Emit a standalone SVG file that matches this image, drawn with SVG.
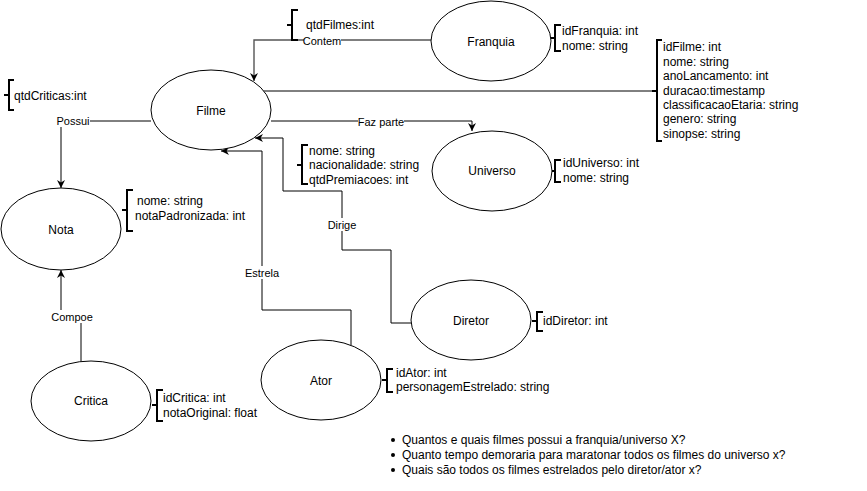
<svg xmlns="http://www.w3.org/2000/svg" width="867" height="491" viewBox="0 0 867 491">
<style>
  .node ellipse { fill: #ffffff; stroke: #000000; stroke-width: 1; }
  .nlabel { font-family: "Liberation Sans", Arial, sans-serif; font-size: 12px; fill: #000000; text-anchor: middle; }
  .attr { font-family: "Liberation Sans", Arial, sans-serif; font-size: 12px; fill: #000000; }
  .elabel { font-family: "Liberation Sans", Arial, sans-serif; font-size: 11px; fill: #000000; text-anchor: middle; }
  .edge { fill: none; stroke: #000000; stroke-width: 1; }
  .gray { stroke: #555555; stroke-width: 1.4; }
  .bracket { fill: none; stroke: #000000; stroke-width: 2; }
  .lblbg { fill: #ffffff; }
</style>
<defs>
  <marker id="arrow" viewBox="0 0 10 10" refX="10" refY="5" markerWidth="8" markerHeight="8" markerUnits="userSpaceOnUse" orient="auto">
    <path d="M0,0 L10,5 L0,10 L3,5 z" fill="#000000"/>
  </marker>
</defs>
<rect x="0" y="0" width="867" height="491" fill="#ffffff"/>

<g id="connectors">
  <path class="edge gray" d="M431,40 H254 V81" marker-end="url(#arrow)"/>
  <path class="edge" d="M653,91 H232" marker-end="url(#arrow)"/>
  <path class="edge" d="M271,121 H472 V131" marker-end="url(#arrow)"/>
  <path class="edge" d="M411,323 H391 V250 H342 V191 H283 V138 H255" marker-end="url(#arrow)"/>
  <path class="edge" d="M351,345 V310 H262 V151 H221" marker-end="url(#arrow)"/>
  <path class="edge" d="M151,121 H61 V188" marker-end="url(#arrow)"/>
  <path class="edge" d="M81,361 V317 H61 V270" marker-end="url(#arrow)"/>

  <rect class="lblbg" x="304" y="34" width="37" height="13"/>
  <text class="elabel" x="322" y="45">Contem</text>
  <rect class="lblbg" x="358" y="115" width="46" height="13"/>
  <text class="elabel" x="381" y="126">Faz parte</text>
  <rect class="lblbg" x="328" y="218" width="29" height="13"/>
  <text class="elabel" x="342" y="229">Dirige</text>
  <rect class="lblbg" x="244" y="266" width="36" height="13"/>
  <text class="elabel" x="262" y="277">Estrela</text>
  <rect class="lblbg" x="56" y="114" width="34" height="13"/>
  <text class="elabel" x="73" y="125">Possui</text>
  <rect class="lblbg" x="52" y="310" width="40" height="13"/>
  <text class="elabel" x="72" y="321">Compoe</text>
</g>

<g id="filme" class="node">
  <ellipse cx="211" cy="110" rx="60" ry="40"/>
  <text class="nlabel" x="211" y="115">Filme</text>
</g>
<g id="franquia" class="node">
  <ellipse cx="491" cy="41" rx="60" ry="40"/>
  <text class="nlabel" x="491" y="46">Franquia</text>
</g>
<g id="universo" class="node">
  <ellipse cx="492" cy="171" rx="60" ry="40"/>
  <text class="nlabel" x="492" y="175">Universo</text>
</g>
<g id="nota" class="node">
  <ellipse cx="61" cy="229" rx="60" ry="41"/>
  <text class="nlabel" x="61" y="234">Nota</text>
</g>
<g id="critica" class="node">
  <ellipse cx="91" cy="401" rx="60" ry="40"/>
  <text class="nlabel" x="91" y="405">Critica</text>
</g>
<g id="ator" class="node">
  <ellipse cx="321" cy="380" rx="60" ry="40"/>
  <text class="nlabel" x="321" y="385">Ator</text>
</g>
<g id="diretor" class="node">
  <ellipse cx="471" cy="320" rx="60" ry="40"/>
  <text class="nlabel" x="471" y="325">Diretor</text>
</g>

<g id="attr-qtdCriticas">
  <path class="bracket" d="M14,80 H9 V110 H14 M9,95 H4"/>
  <text class="attr" x="14" y="100">qtdCriticas:int</text>
</g>
<g id="attr-qtdFilmes">
  <path class="bracket" d="M298,10 H292 V40 H298 M292,25 H287"/>
  <text class="attr" x="306" y="29">qtdFilmes:int</text>
</g>
<g id="attr-franquia">
  <path class="bracket" d="M561,25 H555 V51 H561 M555,38 H551"/>
  <text class="attr" x="562" y="35">idFranquia: int</text>
  <text class="attr" x="562" y="50">nome: string</text>
</g>
<g id="attr-filme">
  <path class="bracket" d="M662,40 H657 V141 H662 M657,91 H652"/>
  <text class="attr" x="663" y="51">idFilme: int</text>
  <text class="attr" x="663" y="65.5">nome: string</text>
  <text class="attr" x="663" y="80">anoLancamento: int</text>
  <text class="attr" x="663" y="94.5">duracao:timestamp</text>
  <text class="attr" x="663" y="109">classificacaoEtaria: string</text>
  <text class="attr" x="663" y="123">genero: string</text>
  <text class="attr" x="663" y="137.5">sinopse: string</text>
</g>
<g id="attr-universo">
  <path class="bracket" d="M561,160 H555 V182 H561 M555,171 H552"/>
  <text class="attr" x="563" y="167">idUniverso: int</text>
  <text class="attr" x="563" y="182">nome: string</text>
</g>
<g id="attr-pessoa">
  <path class="bracket" d="M308,145 H302 V184 H308 M302,165 H297"/>
  <text class="attr" x="309" y="155">nome: string</text>
  <text class="attr" x="309" y="169">nacionalidade: string</text>
  <text class="attr" x="309" y="184">qtdPremiacoes: int</text>
</g>
<g id="attr-nota">
  <path class="bracket" d="M133,190 H127 V231 H133 M127,210 H122"/>
  <text class="attr" x="137" y="205">nome: string</text>
  <text class="attr" x="135" y="220">notaPadronizada: int</text>
</g>
<g id="attr-critica">
  <path class="bracket" d="M163,390 H157 V421 H163 M157,405 H152"/>
  <text class="attr" x="163" y="402">idCritica: int</text>
  <text class="attr" x="163" y="417">notaOriginal: float</text>
</g>
<g id="attr-ator">
  <path class="bracket" d="M393,369 H387 V392 H393 M387,380 H382"/>
  <text class="attr" x="396" y="377">idAtor: int</text>
  <text class="attr" x="396" y="391">personagemEstrelado: string</text>
</g>
<g id="attr-diretor">
  <path class="bracket" d="M543,312 H537 V331 H543 M537,321 H532"/>
  <text class="attr" x="543" y="325">idDiretor: int</text>
</g>

<g id="questions">
  <circle cx="393" cy="440" r="2" fill="#000000"/>
  <text class="attr" x="402" y="444">Quantos e quais filmes possui a franquia/universo X?</text>
  <circle cx="393" cy="455" r="2" fill="#000000"/>
  <text class="attr" x="402" y="459">Quanto tempo demoraria para maratonar todos os filmes do universo x?</text>
  <circle cx="393" cy="470" r="2" fill="#000000"/>
  <text class="attr" x="402" y="474">Quais são todos os filmes estrelados pelo diretor/ator x?</text>
</g>
</svg>
